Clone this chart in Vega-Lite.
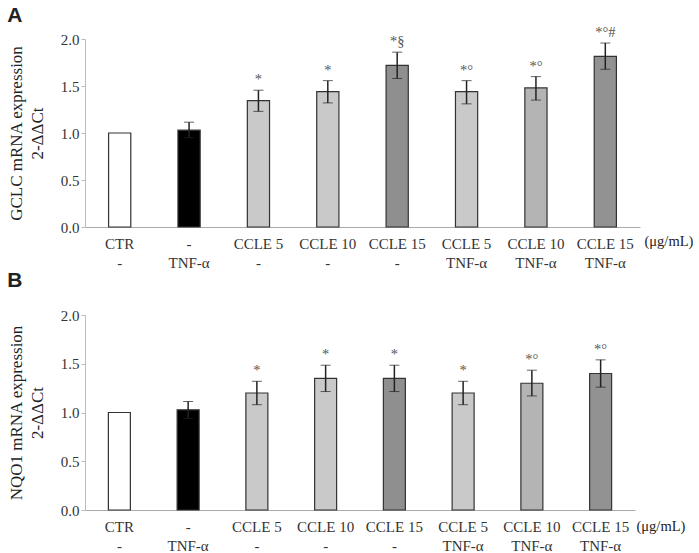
{
  "$schema": "https://vega.github.io/schema/vega-lite/v6.json",
  "padding": {"left": 7, "top": 5, "right": 0, "bottom": 2},
  "spacing": 0,
  "config": {
    "view": {"stroke": null},
    "font": "Liberation Serif",
    "axis": {"labelFont": "Liberation Serif", "titleFont": "Liberation Serif", "grid": false, "labelColor": "#333", "titleColor": "#222", "titleFontWeight": "normal"},
    "title": {"font": "Liberation Sans", "fontSize": 21, "fontWeight": "bold", "anchor": "start", "frame": "bounds", "color": "#222"}
  },
  "datasets": {
    "gclc": [
      {"group": "CTR|-", "value": 1.0, "lo": 1.0, "hi": 1.0, "note": ""},
      {"group": "-|TNF-α", "value": 1.03, "lo": 0.95, "hi": 1.115, "note": ""},
      {"group": "CCLE 5|-", "value": 1.345, "lo": 1.23, "hi": 1.455, "note": "*"},
      {"group": "CCLE 10|-", "value": 1.44, "lo": 1.32, "hi": 1.557, "note": "*"},
      {"group": "CCLE 15|-", "value": 1.72, "lo": 1.58, "hi": 1.86, "note": "*§"},
      {"group": "CCLE 5|TNF-α", "value": 1.44, "lo": 1.31, "hi": 1.557, "note": "*°"},
      {"group": "CCLE 10|TNF-α", "value": 1.48, "lo": 1.35, "hi": 1.6, "note": "*°"},
      {"group": "CCLE 15|TNF-α", "value": 1.815, "lo": 1.678, "hi": 1.957, "note": "*°#"}
    ],
    "nqo1": [
      {"group": "CTR|-", "value": 1.0, "lo": 1.0, "hi": 1.0, "note": ""},
      {"group": "-|TNF-α", "value": 1.027, "lo": 0.94, "hi": 1.113, "note": ""},
      {"group": "CCLE 5|-", "value": 1.2, "lo": 1.08, "hi": 1.32, "note": "*"},
      {"group": "CCLE 10|-", "value": 1.35, "lo": 1.215, "hi": 1.485, "note": "*"},
      {"group": "CCLE 15|-", "value": 1.35, "lo": 1.215, "hi": 1.485, "note": "*"},
      {"group": "CCLE 5|TNF-α", "value": 1.2, "lo": 1.08, "hi": 1.32, "note": "*"},
      {"group": "CCLE 10|TNF-α", "value": 1.3, "lo": 1.17, "hi": 1.434, "note": "*°"},
      {"group": "CCLE 15|TNF-α", "value": 1.4, "lo": 1.26, "hi": 1.54, "note": "*°"}
    ]
  },
  "vconcat": [
    {
      "title": {"text": "A", "offset": -1},
      "width": 555,
      "height": 188,
      "data": {"name": "gclc"},
      "encoding": {
        "x": {
          "field": "group", "type": "nominal", "sort": null,
          "scale": {"paddingInner": 0.68, "paddingOuter": 0.34},
          "axis": {"title": "(μg/mL)", "titleAngle": 0, "titleAlign": "left", "titleBaseline": "middle", "titleX": 559, "titleY": 14, "titleFontSize": 14.5,
                   "labelAngle": 0, "labelExpr": "split(datum.label, '|')", "labelFontSize": 15, "labelLineHeight": 19, "labelPadding": 9, "labelBaseline": "top",
                   "ticks": false, "domainColor": "#aaa"}
        }
      },
      "layer": [
        {
          "mark": {"type": "bar", "stroke": "#333", "strokeWidth": 1.2},
          "encoding": {
            "y": {"field": "value", "type": "quantitative", "scale": {"domain": [0, 2]}, "title": ["GCLC mRNA expression", "2-ΔΔCt"],
                  "axis": {"values": [0, 0.5, 1, 1.5, 2], "format": ".1f", "titleFontSize": 17, "titleLineHeight": 21, "titlePadding": 14,
                           "labelFontSize": 15, "labelPadding": 2, "domainColor": "#bbb", "tickColor": "#bbb", "tickSize": 4}},
            "fill": {"field": "group", "type": "nominal", "legend": null,
                     "scale": {"domain": ["CTR|-", "-|TNF-α", "CCLE 5|-", "CCLE 10|-", "CCLE 15|-", "CCLE 5|TNF-α", "CCLE 10|TNF-α", "CCLE 15|TNF-α"],
                               "range": ["#ffffff", "#000000", "#c9c9c9", "#c9c9c9", "#8f8f8f", "#c9c9c9", "#b4b4b4", "#929292"]}}
          }
        },
        {
          "transform": [{"filter": "datum.hi > datum.value"}],
          "mark": {"type": "errorbar", "ticks": {"size": 10, "color": "#222", "strokeWidth": 1.5}, "rule": {"color": "#222", "strokeWidth": 1.5}},
          "encoding": {"y": {"field": "hi", "type": "quantitative", "title": ["GCLC mRNA expression", "2-ΔΔCt"]}, "y2": {"field": "lo"}}
        },
        {
          "mark": {"type": "text", "baseline": "alphabetic", "dy": -6, "fontSize": 14.5, "color": "#555"},
          "encoding": {"y": {"field": "hi", "type": "quantitative", "title": ["GCLC mRNA expression", "2-ΔΔCt"]}, "text": {"field": "note"}}
        }
      ]
    },
    {
      "title": {"text": "B", "offset": 17},
      "width": 550,
      "height": 195,
      "data": {"name": "nqo1"},
      "encoding": {
        "x": {
          "field": "group", "type": "nominal", "sort": null,
          "scale": {"paddingInner": 0.68, "paddingOuter": 0.34},
          "axis": {"title": "(μg/mL)", "titleAngle": 0, "titleAlign": "left", "titleBaseline": "middle", "titleX": 551, "titleY": 16, "titleFontSize": 14.5,
                   "labelAngle": 0, "labelExpr": "split(datum.label, '|')", "labelFontSize": 15, "labelLineHeight": 19, "labelPadding": 9, "labelBaseline": "top",
                   "ticks": false, "domainColor": "#aaa"}
        }
      },
      "layer": [
        {
          "mark": {"type": "bar", "stroke": "#333", "strokeWidth": 1.2},
          "encoding": {
            "y": {"field": "value", "type": "quantitative", "scale": {"domain": [0, 2]}, "title": ["NQO1 mRNA expression", "2-ΔΔCt"],
                  "axis": {"values": [0, 0.5, 1, 1.5, 2], "format": ".1f", "titleFontSize": 17, "titleLineHeight": 21, "titlePadding": 14,
                           "labelFontSize": 15, "labelPadding": 2, "domainColor": "#bbb", "tickColor": "#bbb", "tickSize": 4}},
            "fill": {"field": "group", "type": "nominal", "legend": null}
          }
        },
        {
          "transform": [{"filter": "datum.hi > datum.value"}],
          "mark": {"type": "errorbar", "ticks": {"size": 10, "color": "#222", "strokeWidth": 1.5}, "rule": {"color": "#222", "strokeWidth": 1.5}},
          "encoding": {"y": {"field": "hi", "type": "quantitative", "title": ["NQO1 mRNA expression", "2-ΔΔCt"]}, "y2": {"field": "lo"}}
        },
        {
          "mark": {"type": "text", "baseline": "alphabetic", "dy": -6, "fontSize": 14.5, "color": "#555"},
          "encoding": {"y": {"field": "hi", "type": "quantitative", "title": ["NQO1 mRNA expression", "2-ΔΔCt"]}, "text": {"field": "note"}}
        }
      ]
    }
  ]
}
